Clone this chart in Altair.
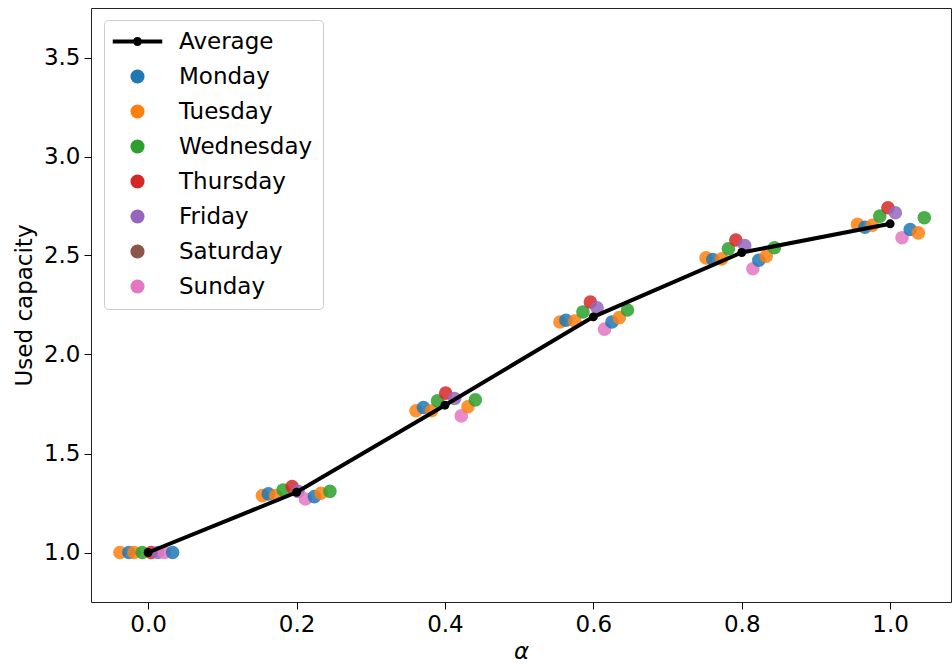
import altair as alt
import pandas as pd

DAYS = ["Monday", "Tuesday", "Wednesday", "Thursday", "Friday", "Saturday", "Sunday"]
LEGEND_DOMAIN = ["Average"] + DAYS
COLORS = ["#000000", "#1f77b4", "#ff7f0e", "#2ca02c", "#d62728", "#9467bd", "#8c564b", "#e377c2"]

# Average curve
alpha_levels = [0.0, 0.2, 0.4, 0.6, 0.8, 1.0]
average_capacity = [1.0, 1.304, 1.744, 2.19, 2.515, 2.66]

# Per-day observations (jittered around each alpha level)
days_a00 = ["Tuesday", "Monday", "Tuesday", "Wednesday", "Thursday", "Friday", "Sunday", "Monday"]
x_a00 = [-0.038, -0.026, -0.019, -0.008, 0.004, 0.013, 0.022, 0.033]
y_a00 = [1.0, 1.0, 1.0, 1.0, 1.0, 1.0, 1.0, 1.0]

days_a02 = ["Tuesday", "Monday", "Tuesday", "Wednesday", "Thursday", "Friday", "Sunday", "Monday", "Tuesday", "Wednesday"]
x_a02 = [0.154, 0.162, 0.172, 0.182, 0.194, 0.202, 0.212, 0.224, 0.233, 0.245]
y_a02 = [1.287, 1.296, 1.287, 1.316, 1.333, 1.309, 1.270, 1.282, 1.299, 1.309]

days_a04 = ["Tuesday", "Monday", "Tuesday", "Wednesday", "Thursday", "Friday", "Sunday", "Tuesday", "Wednesday"]
x_a04 = [0.361, 0.371, 0.382, 0.390, 0.401, 0.413, 0.422, 0.431, 0.441]
y_a04 = [1.716, 1.732, 1.716, 1.766, 1.805, 1.778, 1.690, 1.736, 1.771]

days_a06 = ["Tuesday", "Monday", "Tuesday", "Wednesday", "Thursday", "Friday", "Sunday", "Monday", "Tuesday", "Wednesday"]
x_a06 = [0.555, 0.563, 0.575, 0.586, 0.596, 0.605, 0.615, 0.625, 0.635, 0.646]
y_a06 = [2.164, 2.173, 2.169, 2.215, 2.265, 2.236, 2.128, 2.164, 2.186, 2.225]

days_a08 = ["Tuesday", "Monday", "Tuesday", "Wednesday", "Thursday", "Friday", "Sunday", "Monday", "Tuesday", "Wednesday"]
x_a08 = [0.752, 0.761, 0.773, 0.782, 0.792, 0.804, 0.815, 0.823, 0.833, 0.844]
y_a08 = [2.488, 2.480, 2.483, 2.534, 2.578, 2.550, 2.433, 2.476, 2.497, 2.539]

days_a10 = ["Tuesday", "Monday", "Tuesday", "Wednesday", "Thursday", "Friday", "Sunday", "Monday", "Tuesday", "Wednesday"]
x_a10 = [0.956, 0.966, 0.976, 0.986, 0.997, 1.007, 1.016, 1.027, 1.038, 1.046]
y_a10 = [2.657, 2.643, 2.653, 2.699, 2.741, 2.716, 2.590, 2.631, 2.614, 2.691]

x_ticks = [0.0, 0.2, 0.4, 0.6, 0.8, 1.0]
y_ticks = [1.0, 1.5, 2.0, 2.5, 3.0, 3.5]

FONT = "DejaVu Sans"
FS = 23

pts = pd.DataFrame({
    "day": days_a00 + days_a02 + days_a04 + days_a06 + days_a08 + days_a10,
    "alpha": x_a00 + x_a02 + x_a04 + x_a06 + x_a08 + x_a10,
    "cap": y_a00 + y_a02 + y_a04 + y_a06 + y_a08 + y_a10,
})
avg = pd.DataFrame({"alpha": alpha_levels, "cap": average_capacity})

avg_path = ("M-3.5,-0.28L3.5,-0.28L3.5,0.28L-3.5,0.28Z "
            "M0.64,0A0.64,0.64 0 1,1 -0.64,0A0.64,0.64 0 1,1 0.64,0Z")
SHAPES = [avg_path] + ["circle"] * 7

xscale = alt.Scale(domain=[-0.077, 1.082], nice=False, zero=False)
yscale = alt.Scale(domain=[0.75, 3.75], nice=False, zero=False)

xaxis = alt.Axis(values=x_ticks, format=".1f", title="α", titleFontStyle="italic",
                 grid=False, domain=False, tickSize=7, labelPadding=4, titlePadding=4,
                 labelFont=FONT, titleFont=FONT, labelFontSize=FS, titleFontSize=FS,
                 labelColor="black", titleColor="black", tickColor="black",
                 titleFontWeight="normal")
yaxis = alt.Axis(values=y_ticks, format=".1f", title="Used capacity",
                 grid=False, domain=False, tickSize=7, labelPadding=4, titlePadding=7,
                 labelFont=FONT, titleFont=FONT, labelFontSize=FS, titleFontSize=FS,
                 labelColor="black", titleColor="black", tickColor="black",
                 titleFontWeight="normal")

legend = alt.Legend(
    title=None, orient="none", legendX=13, legendY=12,
    symbolSize=200, symbolOffset=12, labelOffset=30,
    labelFontSize=FS, labelFont=FONT, labelColor="black", labelLimit=400,
    rowPadding=11, padding=10, strokeColor="#cccccc", fillColor="white",
    cornerRadius=4, symbolOpacity=1, symbolStrokeWidth=0,
)

points = alt.Chart(pts).mark_point(filled=True, size=185, opacity=0.85, strokeWidth=0).encode(
    x=alt.X("alpha:Q", scale=xscale, axis=xaxis),
    y=alt.Y("cap:Q", scale=yscale, axis=yaxis),
    color=alt.Color("day:N", scale=alt.Scale(domain=LEGEND_DOMAIN, range=COLORS), legend=legend),
    shape=alt.Shape("day:N", scale=alt.Scale(domain=LEGEND_DOMAIN, range=SHAPES), legend=legend),
)

line = alt.Chart(avg).mark_line(color="black", strokeWidth=4).encode(
    x=alt.X("alpha:Q", scale=xscale),
    y=alt.Y("cap:Q", scale=yscale),
)
avg_pts = alt.Chart(avg).mark_point(filled=True, color="black", size=80, opacity=1).encode(
    x=alt.X("alpha:Q", scale=xscale),
    y=alt.Y("cap:Q", scale=yscale),
)

chart = alt.layer(points, line, avg_pts).properties(
    width=860, height=594,
    background="white",
    autosize=alt.AutoSizeParams(type="none"),
    padding={"left": 91, "top": 8, "right": 1, "bottom": 62},
).configure_view(
    stroke="#222222", strokeWidth=1
)

chart.save("out.html", embed_options={"renderer": "svg", "actions": False})
